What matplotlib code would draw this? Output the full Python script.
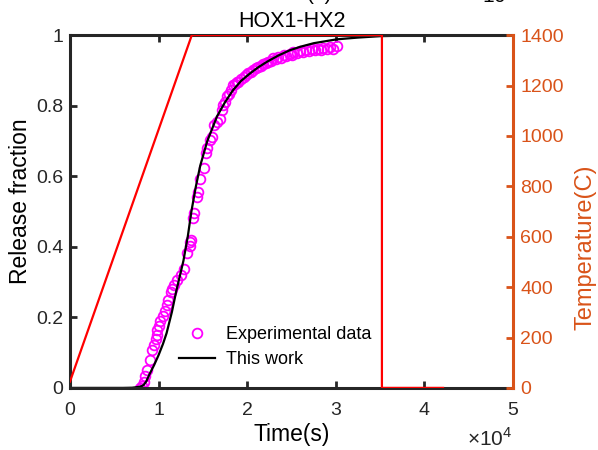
import matplotlib
matplotlib.use("Agg")
import matplotlib.pyplot as plt
from matplotlib.ticker import FuncFormatter

plt.rcParams['font.family'] = ['Liberation Sans', 'DejaVu Sans']
plt.rcParams['mathtext.fontset'] = 'custom'
plt.rcParams['mathtext.rm'] = 'Liberation Sans'

# ---- data ----
# experimental release fraction
t_exp = [7900, 8100, 8300, 8500, 8700, 9000, 9300, 9500, 9700, 9850, 9850,
         10000, 10200, 10500, 10700, 11000, 11100, 11400, 11500, 11700,
         12100, 12500, 12900, 13200, 13500, 13550, 13650, 13900, 14000,
         14300, 14400, 14700, 15100, 15400, 15450, 15800, 16000, 16200,
         16600, 16900, 17100, 17300, 17500, 17700, 17900, 18200, 18400,
         18600, 18800, 19000, 19300, 19600, 19900, 20100, 20400, 20700,
         21000, 21250, 21500, 21800, 22100, 22400, 22700, 22900, 23200,
         23500, 23800, 24100, 24400, 24800, 25000, 25200, 25600, 25900,
         26300, 26600, 27000, 27300, 27600, 28000, 28300, 28600, 29000,
         29300, 29700, 30100]
f_exp = [0.000, 0.005, 0.018, 0.035, 0.051, 0.080, 0.108, 0.122, 0.140,
         0.150, 0.164, 0.176, 0.190, 0.205, 0.218, 0.235, 0.249, 0.273,
         0.280, 0.292, 0.306, 0.320, 0.336, 0.381, 0.402, 0.414, 0.420,
         0.481, 0.495, 0.542, 0.556, 0.591, 0.622, 0.665, 0.679, 0.703,
         0.712, 0.745, 0.754, 0.762, 0.788, 0.802, 0.811, 0.827, 0.832,
         0.845, 0.858, 0.862, 0.866, 0.868, 0.876, 0.880, 0.888, 0.892,
         0.895, 0.902, 0.906, 0.910, 0.912, 0.918, 0.920, 0.925, 0.928,
         0.934, 0.932, 0.938, 0.936, 0.944, 0.940, 0.946, 0.944, 0.951,
         0.948, 0.955, 0.952, 0.958, 0.955, 0.960, 0.957, 0.962, 0.959,
         0.964, 0.961, 0.965, 0.962, 0.968]

# model curve ("This work")
t_model = [0, 6000, 7000, 7500, 8000, 8300, 8600, 9000, 9500, 10000, 10500,
           10900, 11500, 12000, 12800, 13300, 13700, 14200, 14700, 15500,
           16600, 17500, 18400, 19300, 20300, 21200, 22200, 23500, 24800,
           26000, 27500, 30100, 32500, 35000, 38500, 42000]
f_model = [0, 0, 0.0005, 0.002, 0.004, 0.008, 0.018, 0.04, 0.065, 0.093,
           0.125, 0.155, 0.215, 0.275, 0.36, 0.43, 0.50, 0.57, 0.63, 0.70,
           0.77, 0.81, 0.844, 0.87, 0.891, 0.908, 0.924, 0.942, 0.957,
           0.967, 0.977, 0.988, 0.993, 0.997, 0.999, 1.0]

# temperature program
t_temp = [0, 13750, 35200, 35200, 42100]
temp = [25, 1400, 1400, 0, 0]

orange = '#D95319'

fig = plt.figure(figsize=(5.98, 4.5), dpi=100)
ax1 = fig.add_axes([0.117, 0.138, 0.741, 0.784])
ax2 = ax1.twinx()

ax1.plot(t_exp, f_exp, 'o', mfc='none', mec='#FF00FF', ms=7, mew=1.3,
         label='Experimental data')
ax1.plot(t_model, f_model, '-', color='k', lw=1.6, label='This work')
ax2.plot(t_temp, temp, '-', color='#FF0000', lw=1.6)

ax1.set_xlim(0, 50000)
ax1.set_ylim(0, 1)
ax2.set_ylim(0, 1400)
ax1.set_xticks([0, 10000, 20000, 30000, 40000, 50000])
ax1.xaxis.set_major_formatter(FuncFormatter(lambda v, p: '%g' % (v / 1e4)))
ax1.set_yticks([0, 0.2, 0.4, 0.6, 0.8, 1])
ax1.yaxis.set_major_formatter(FuncFormatter(lambda v, p: '%g' % v))
ax2.set_yticks(range(0, 1401, 200))

for s in ['left', 'top', 'bottom']:
    ax1.spines[s].set_linewidth(2.2)
    ax1.spines[s].set_color('#262626')
ax1.spines['right'].set_visible(False)
for s in ['left', 'top', 'bottom']:
    ax2.spines[s].set_visible(False)
ax2.spines['right'].set_color(orange)
ax2.spines['right'].set_linewidth(2.2)

ax1.tick_params(axis='x', direction='in', top=True, length=5, width=2,
                labelsize=14, pad=10, colors='#262626')
ax1.tick_params(axis='y', direction='in', length=5, width=2,
                labelsize=14, pad=5, colors='#262626')
ax2.tick_params(axis='y', direction='in', length=5, width=2,
                labelsize=14, pad=5, colors=orange)

ax1.set_xlabel('Time(s)', fontsize=16.5, labelpad=3)
ax1.set_ylabel('Release fraction', fontsize=16.5)
ax1.yaxis.set_label_coords(-0.085, 0.53)
ax2.set_ylabel('Temperature(C)', fontsize=17, color=orange)
ax2.yaxis.set_label_coords(1.138, 0.4)
ax1.set_title('HOX1-HX2', fontsize=15.5, pad=6)

ax1.legend(loc='lower left', bbox_to_anchor=(0.21, 0.01), frameon=False,
           fontsize=13, handlelength=2.0, handletextpad=0.6, labelspacing=0.45)

# multiplier labels (the top ones are cut off in the original)
fig.text(0.781, 0.01, r'$\times10^{4}$', fontsize=15, color='#262626')
fig.text(0.535, 1.0, '(a)', fontsize=15, ha='center', va='baseline')
fig.text(0.786, 0.993, r'$\times10^{4}$', fontsize=15, va='baseline')

fig.savefig('out.png', dpi=100)
